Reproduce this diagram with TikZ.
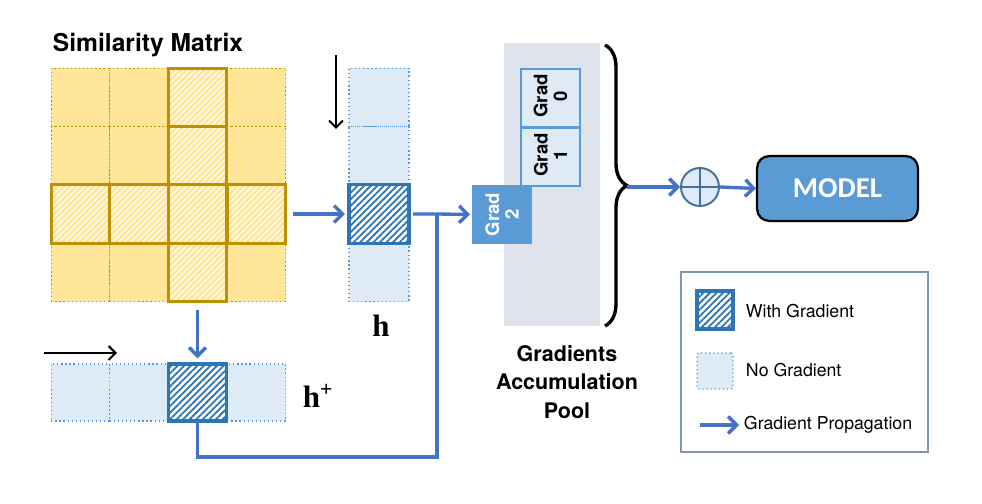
\documentclass[tikz,border=0pt]{standalone}
\usepackage{fontspec}
\newfontfamily\heros{TeX Gyre Heros}
\newfontfamily\carlito{Carlito}
\newfontfamily\timesbold{Liberation Serif}
\usetikzlibrary{patterns.meta,arrows.meta,decorations.pathreplacing}
\definecolor{simfill}{HTML}{FFE699}
\definecolor{simedge}{HTML}{BF9000}
\definecolor{nofill}{HTML}{DEEBF7}
\definecolor{noedge}{HTML}{5B9BD5}
\definecolor{hotedge}{HTML}{2E75B6}
\definecolor{arrowblue}{HTML}{4472C4}
\definecolor{poolfill}{HTML}{DFE3EB}
\definecolor{gradedge}{HTML}{5B9BD5}
\definecolor{plusedge}{HTML}{41719C}
\definecolor{legendedge}{HTML}{8497B0}
\tikzset{
  cell/.style={rectangle,inner sep=0pt,outer sep=0pt,minimum width=1.465cm,minimum height=1.465cm},
  simcell/.style={cell,fill=simfill,draw=simedge,dotted,line width=0.9pt},
  simhot/.style={cell,preaction={fill=simfill},pattern={Lines[angle=45,distance=3pt,line width=0.9pt]},pattern color=white,draw=simedge,line width=2.4pt},
  vcell/.style={cell,fill=nofill,draw=noedge,dotted,line width=0.9pt},
  vhot/.style={cell,preaction={fill=white},pattern={Lines[angle=45,distance=3.3pt,line width=1.3pt]},pattern color=hotedge,draw=hotedge,line width=2.4pt},
  gradbox/.style={rectangle,inner sep=0pt,minimum width=1.48cm,minimum height=1.47cm,draw=gradedge,line width=1.4pt},
  flow/.style={draw=arrowblue,line width=2.4pt,-{Straight Barb[length=6pt,width=12pt,line width=2.4pt]}},
  blueline/.style={draw=arrowblue,line width=2.4pt},
  scan/.style={draw=black,line width=1.4pt,-{Straight Barb[length=5pt,width=10pt,line width=1.4pt]}},
  keytext/.style={font=\heros\fontsize{12.6}{14}\selectfont,anchor=west},
  vecname/.style={font=\timesbold\bfseries\fontsize{22}{24}\selectfont}
}
\begin{document}
\begin{tikzpicture}[x=0.025cm,y=-0.025cm]
        \useasboundingbox (0,0) rectangle (982,504);
        % similarity matrix
        \node[font=\heros\bfseries\fontsize{17.5}{20}\selectfont,anchor=west] (title) at (48,45) {Similarity Matrix};
        \draw (80.5,97.5) node[simcell](m11){};
        \draw (139,97.5) node[simcell](m12){};
        \draw (256.5,97.5) node[simcell](m14){};
        \draw (80.5,156) node[simcell](m21){};
        \draw (139,156) node[simcell](m22){};
        \draw (256.5,156) node[simcell](m24){};
        \draw (80.5,272.5) node[simcell](m41){};
        \draw (139,272.5) node[simcell](m42){};
        \draw (256.5,272.5) node[simcell](m44){};
        \draw (197.5,97.5) node[simhot](m13){};
        \draw (197.5,156) node[simhot](m23){};
        \draw (197.5,272.5) node[simhot](m43){};
        \draw (80.5,214) node[simhot](m31){};
        \draw (139,214) node[simhot](m32){};
        \draw (256.5,214) node[simhot](m34){};
        \draw (197.5,214) node[simhot](m33){};
        % h column
        \draw (379,97.5) node[vcell,minimum width=1.5cm](h1){};
        \draw (379,156) node[vcell,minimum width=1.5cm](h2){};
        \draw (379,272.5) node[vcell,minimum width=1.5cm](h4){};
        \draw (379,214) node[vhot,minimum width=1.5cm](h3){};
        \node[vecname] (hlabel) at (381,326) {h};
        % h+ row
        \draw (80.5,392.5) node[vcell,minimum height=1.43cm](hp1){};
        \draw (139,392.5) node[vcell,minimum height=1.43cm](hp2){};
        \draw (256.5,392.5) node[vcell,minimum height=1.43cm](hp4){};
        \draw (197.5,392.5) node[vhot,minimum height=1.43cm](hp3){};
        \node[vecname] (hplabel) at (318,396) {h\textsuperscript{+}};
        % scan directions
        \coordinate (hs1) at (336,55);
        \coordinate (hs2) at (336,129);
        \coordinate (ps1) at (44,353);
        \coordinate (ps2) at (117,353);
        \draw[scan] (hs1) -- (hs2);
        \draw[scan] (ps1) -- (ps2);
        % accumulation pool
        \draw (552,184.5) node[fill=poolfill,inner sep=0pt,minimum width=2.4cm,minimum height=7.075cm](pool){};
        \draw (550.5,98) node[gradbox,fill=nofill](grad0){};
        \draw (550.5,157) node[gradbox,fill=nofill,minimum height=1.45cm](grad1){};
        \draw (502,214.5) node[gradbox,fill=gradedge,draw=none](grad2){};
        \node[rotate=90,font=\heros\bfseries\fontsize{13.2}{14}\selectfont,align=center] (g0text) at (550.5,96) {Grad\\0};
        \node[rotate=90,font=\heros\bfseries\fontsize{13.2}{14}\selectfont,align=center] (g1text) at (550.5,155) {Grad\\1};
        \node[rotate=90,font=\heros\bfseries\fontsize{13.2}{14}\selectfont,align=center,text=white] (g2text) at (grad2) {Grad\\2};
        \node[align=center,font=\heros\bfseries\fontsize{15.3}{20}\selectfont] (poollabel) at (567,382) {Gradients\\Accumulation\\Pool};
        \coordinate (br1) at (605,45);
        \coordinate (br2) at (605,326);
        \coordinate (tip) at (627,187);
        \draw[line width=2.4pt,decorate,decoration={brace,amplitude=0.55cm}] (br1) -- (br2);
        % sum and model
        \draw (700,187) node[circle,draw=plusedge,fill=nofill,line width=1.4pt,minimum size=0.95cm,inner sep=0pt](plus){};
        \draw[plusedge,line width=1.4pt] (plus.north) -- (plus.south) (plus.west) -- (plus.east);
        \draw (837.5,188.5) node[rounded corners=0.3cm,draw=black,line width=1.6pt,fill=gradedge,text=white,minimum width=4.02cm,minimum height=1.62cm,font=\carlito\bfseries\fontsize{20.5}{22}\selectfont](model){MODEL};
        % gradient flow
        \coordinate (j1) at (437,214);
        \coordinate (j2) at (437,457);
        \draw[flow,shorten <=5pt,shorten >=3pt] (m34.east) -- (h3.west);
        \draw[flow,shorten <=5.5pt,shorten >=4pt] (m43.south) -- (hp3.north);
        \draw[flow,shorten <=3pt,shorten >=1pt] (h3.east) -- (j1) -- (grad2.west);
        \draw[blueline] (hp3.south) |- (j2) -- (j1);
        \draw[flow] (tip) -- (plus.west);
        \draw[flow] (plus.east) -- (model.west);
        % legend
        \draw (804.5,362) node[draw=legendedge,line width=1.5pt,minimum width=6.175cm,minimum height=4.5cm](legend){};
        \draw (715,310) node[vhot,minimum width=0.9cm,minimum height=0.95cm](keyhot){};
        \draw (715,371) node[vcell,rounded corners=1.5pt,minimum width=0.9cm,minimum height=0.9cm](keyno){};
        \node[keytext] (keytxt1) at (741,311) {With Gradient};
        \node[keytext] (keytxt2) at (741,370) {No Gradient};
        \node[keytext] (keytxt3) at (739,425) {Gradient Propagation};
        \coordinate (keya) at (700,425);
        \draw[flow] (keya) -- (keytxt3.west);
      \end{tikzpicture}
\end{document}
